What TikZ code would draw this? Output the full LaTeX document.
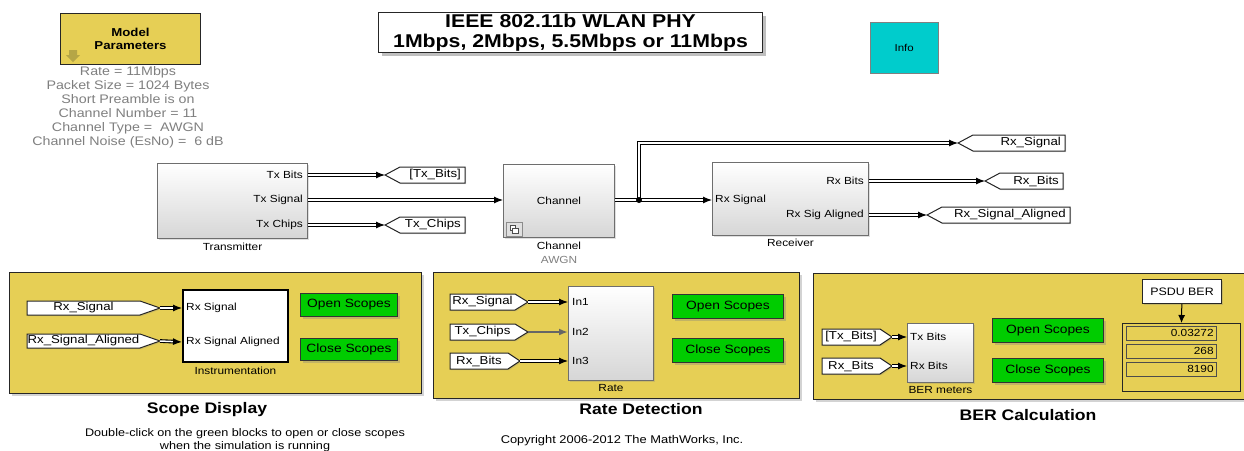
\documentclass[tikz,border=0pt]{standalone}
\usepackage{fontspec}
\setmainfont[FakeStretch=1.15]{Liberation Sans}
\usetikzlibrary{arrows.meta,shadows,positioning}
\definecolor{PanelYellow}{HTML}{E6CF55}
\definecolor{ScopeGreen}{HTML}{00CC00}
\definecolor{InfoCyan}{HTML}{00CCCC}
\definecolor{NoteGray}{HTML}{7F7F7F}
\definecolor{BlockEdge}{HTML}{6E6E6E}
\definecolor{BlockShade}{HTML}{D6D6D6}
\definecolor{IconOlive}{HTML}{B5A646}

\begin{document}
\begin{tikzpicture}[
  x=1pt, y=-1pt,
  line join=miter,
  panel/.style={draw=black!85, fill=PanelYellow, line width=1pt, anchor=north west, inner sep=0pt,
    drop shadow={opacity=0.35, shadow xshift=2.5pt, shadow yshift=-2.5pt}},
  block/.style={draw=BlockEdge, line width=1pt, top color=white, bottom color=BlockShade,
    anchor=north west, inner sep=0pt,
    drop shadow={opacity=0.25, shadow xshift=1.5pt, shadow yshift=-1.5pt}},
  button/.style={draw=black!80, fill=ScopeGreen, line width=1pt, anchor=north west, inner sep=0pt,
    font=\fontsize{12}{14}\selectfont,
    drop shadow={opacity=0.35, shadow xshift=2pt, shadow yshift=-2pt}},
  port/.style={font=\fontsize{10.3}{12}\selectfont, inner sep=0pt},
  caption/.style={font=\fontsize{10.3}{12}\selectfont, inner sep=0pt},
  heading/.style={font=\fontsize{15.3}{18}\selectfont\bfseries, inner sep=0pt},
  tag/.style={draw=black!85, fill=white, line width=1pt,
    drop shadow={opacity=0.25, shadow xshift=1.2pt, shadow yshift=-1.2pt}},
  taglbl/.style={font=\fontsize{11.5}{14}\selectfont, inner sep=0pt},
  sig/.style={draw, double=white, double distance=1.5pt, line width=1.1pt,
    -{Latex[length=9pt,width=7pt]}}
]
\useasboundingbox (0,0) rectangle (1244,450);
\clip (0,0) rectangle (1244,450);

% === Top row: parameters, title, info ===
\node[draw=black!85, fill=PanelYellow, line width=1pt, anchor=north west, inner sep=0pt,
  minimum width=140, minimum height=51, align=center,
  font=\fontsize{11.5}{13}\selectfont\bfseries] (params) at (60,13) {Model\\Parameters};
\fill[IconOlive] (69,50) -- (77,50) -- (77,55) -- (80,55) -- (73,62) -- (66,55) -- (69,55) -- cycle;
\node[caption, text=NoteGray, align=center, anchor=north, font=\fontsize{12.4}{14}\selectfont]
  (paramtext) at (128,66) {Rate = 11Mbps\\Packet Size = 1024 Bytes\\Short Preamble is on\\
  Channel Number = 11\\Channel Type =\ \ AWGN\\Channel Noise (EsNo) =\ \ 6 dB};

\node[draw=black!85, fill=white, line width=1pt, anchor=north west, inner sep=0pt,
  minimum width=384, minimum height=40, align=center,
  font=\fontsize{18.5}{19.5}\selectfont\bfseries,
  drop shadow={opacity=0.5, shadow xshift=3pt, shadow yshift=-3pt}]
  (title) at (378,12) {IEEE 802.11b WLAN PHY\\1Mbps, 2Mbps, 5.5Mbps or 11Mbps};

\node[draw=black!50, fill=InfoCyan, anchor=north west, inner sep=0pt,
  minimum width=68, minimum height=51, font=\fontsize{10}{11}\selectfont] (info) at (870,22) {Info};

% === Transmitter -> Channel -> Receiver ===
\node[block, minimum width=150, minimum height=75] (tx) at (157,163) {};
\node[port, anchor=east] (txL1) at (303,175) {Tx Bits};
\node[port, anchor=east] (txL2) at (303,200) {Tx Signal};
\node[port, anchor=east] (txL3) at (303,225) {Tx Chips};
\node[caption, below=4pt of tx] (txcap) {Transmitter};

\node[block, minimum width=111, minimum height=73] (ch) at (503,164) {};
\node[port] (chL) at (ch.center) {Channel};
\draw[fill=black!12, draw=black!45, line width=0.6pt] (506,222) rectangle (522,236);
\draw[fill=white, draw=black!70, line width=0.5pt] (510,225) rectangle (515,230);
\draw[fill=white, draw=black!70, line width=0.5pt] (512,228) rectangle (518,233);
\node[caption, below=4pt of ch] (chcap) {Channel};
\node[caption, text=NoteGray, below=6pt of chcap] (chsub) {AWGN};

\node[block, minimum width=156, minimum height=73] (rx) at (712,162) {};
\node[port, anchor=west] (rxL1) at (715,200) {Rx Signal};
\node[port, anchor=east] (rxL2) at (864,181) {Rx Bits};
\node[port, anchor=east] (rxL3) at (864,215) {Rx Sig Aligned};
\node[caption, below=3pt of rx] (rxcap) {Receiver};

\coordinate (tx-o1) at (tx.east |- 0,175);
\coordinate (tx-o2) at (tx.east |- 0,200);
\coordinate (tx-o3) at (tx.east |- 0,225);
\coordinate (ch-in) at (ch.west |- 0,200);
\coordinate (ch-out) at (ch.east |- 0,200);
\coordinate (br) at (639,200);
\coordinate (rx-in) at (rx.west |- 0,200);
\coordinate (rx-o1) at (rx.east |- 0,181);
\coordinate (rx-o2) at (rx.east |- 0,215);

% Goto tags (point left)
\foreach \nm/\tx/\ty/\w/\lab in {
  gTxBits/385/175/65/{[Tx\_Bits]},
  gTxChips/385/225/65/{Tx\_Chips},
  gRxSig/958/143/92/{Rx\_Signal},
  gRxBits/985/181/63/{Rx\_Bits},
  gRxAl/927/215/128/{Rx\_Signal\_Aligned}%
}{
  \draw[tag] (\tx,\ty) -- (\tx+15,\ty-8) -- (\tx+15+\w,\ty-8) -- (\tx+15+\w,\ty+8)
    -- (\tx+15,\ty+8) -- cycle;
  \node[taglbl, anchor=east] (\nm) at (\tx+15+\w-4,\ty) {\lab};
  \coordinate (\nm-tip) at (\tx,\ty);
}

\draw[sig] (tx-o1) -- (gTxBits-tip);
\draw[sig] (tx-o2) -- (ch-in);
\draw[sig] (tx-o3) -- (gTxChips-tip);
\draw[sig, -] (ch-out) -- (br);
\draw[sig] (br) -- (rx-in);
\draw[sig] (br) |- (gRxSig-tip);
\fill (br) circle (3);
\draw[sig] (rx-o1) -- (gRxBits-tip);
\draw[sig] (rx-o2) -- (gRxAl-tip);

% === Bottom panels ===
\node[panel, minimum width=412, minimum height=121] (scopep) at (9,272) {};
\node[panel, minimum width=366, minimum height=126] (ratep) at (433,272) {};
\node[panel, minimum width=440, minimum height=126] (berp) at (813,273) {};

\node[heading] (scopeT) at (207,410) {Scope Display};
\node[heading] (rateT) at (641,409) {Rate Detection};
\node[heading] (berT) at (1028,415) {BER Calculation};
\node[caption, align=center, font=\fontsize{11}{13}\selectfont] (note) at (245,440)
  {Double-click on the green blocks to open or close scopes\\when the simulation is running};
\node[caption, font=\fontsize{11.2}{13}\selectfont] (copy) at (622,441) {Copyright 2006-2012 The MathWorks, Inc.};

% Scope display
\node[draw=black, line width=1.8pt, fill=white, anchor=north west, inner sep=0pt,
  minimum width=105, minimum height=72,
  drop shadow={opacity=0.3, shadow xshift=1.5pt, shadow yshift=-1.5pt}] (instr) at (182,289) {};
\node[port, anchor=west] (instrL1) at (186,308) {Rx Signal};
\node[port, anchor=west] (instrL2) at (186,342) {Rx Signal Aligned};
\node[caption, below=4pt of instr] (instrcap) {Instrumentation};
\node[button, minimum width=97, minimum height=23] (sOpen) at (300,293) {Open Scopes};
\node[button, minimum width=97, minimum height=22] (sClose) at (300,338) {Close Scopes};

% Rate detection
\node[block, minimum width=85, minimum height=94] (rate) at (568,286) {};
\node[port, anchor=west] (rateL1) at (572,302) {In1};
\node[port, anchor=west] (rateL2) at (572,332) {In2};
\node[port, anchor=west] (rateL3) at (572,361) {In3};
\node[caption, below=3pt of rate] (ratecap) {Rate};
\node[button, minimum width=111, minimum height=24] (rOpen) at (672,294) {Open Scopes};
\node[button, minimum width=111, minimum height=24] (rClose) at (672,338) {Close Scopes};

% BER calculation
\node[block, minimum width=66, minimum height=59] (berm) at (907,323) {};
\node[port, anchor=west] (bermL1) at (910,337) {Tx Bits};
\node[port, anchor=west] (bermL2) at (910,366) {Rx Bits};
\node[caption, below=3pt of berm] (bermcap) {BER meters};
\node[button, minimum width=111, minimum height=24] (bOpen) at (992,318) {Open Scopes};
\node[button, minimum width=111, minimum height=24] (bClose) at (992,358) {Close Scopes};

\node[draw=black!85, fill=white, line width=1pt, anchor=north west, inner sep=0pt,
  minimum width=79, minimum height=24, font=\fontsize{10.8}{12}\selectfont,
  drop shadow={opacity=0.3, shadow xshift=1.5pt, shadow yshift=-1.5pt}] (psdu) at (1142,279) {PSDU BER};
\node[draw=black!85, fill=PanelYellow, line width=1pt, anchor=north west, inner sep=0pt,
  minimum width=118, minimum height=68] (disp) at (1122,323) {};
\foreach \i/\v/\yy in {1/0.03272/326, 2/268/344, 3/8190/362}{
  \node[draw=black!70, fill=PanelYellow, line width=0.8pt, anchor=north west, inner sep=0pt,
    minimum width=90, minimum height=14] (fld\i) at (1126,\yy) {};
  \node[port, anchor=east] (val\i) at ([xshift=-3pt]fld\i.east) {\v};
}
\draw[-{Latex[length=8pt,width=7pt]}, line width=1pt] (psdu) -- (disp.north);

% From tags (point right)
\foreach \nm/\fx/\fy/\w/\len/\h/\lab in {
  sRxSig/27/308/113/20/7/{Rx\_Signal},
  sRxAl/27/341/113/20/7/{Rx\_Signal\_Aligned},
  rRxSig/450/302/65/13/8/{Rx\_Signal},
  rTxChips/450/332/65/13/8/{Tx\_Chips},
  rRxBits/450/361/58/12/8/{Rx\_Bits},
  bTxBits/822/337/58/12/8/{[Tx\_Bits]},
  bRxBits/822/366/58/12/8/{Rx\_Bits}%
}{
  \draw[tag] (\fx,\fy-\h) -- (\fx+\w,\fy-\h) -- (\fx+\w+\len,\fy) -- (\fx+\w,\fy+\h)
    -- (\fx,\fy+\h) -- cycle;
  \node[taglbl] (\nm) at (\fx+\w/2,\fy) {\lab};
  \coordinate (\nm-tip) at (\fx+\w+\len,\fy);
}

\draw[sig] (sRxSig-tip) -- (instr.west |- 0,308);
\draw[sig] (sRxAl-tip) -- (instr.west |- 0,342);
\draw[sig] (rRxSig-tip) -- (rate.west |- 0,302);
\draw[line width=2.6pt, draw=black!60, -{Latex[length=9pt,width=7pt]}] (rTxChips-tip) -- (rate.west |- 0,332);
\draw[sig] (rRxBits-tip) -- (rate.west |- 0,361);
\draw[sig] (bTxBits-tip) -- (berm.west |- 0,337);
\draw[sig] (bRxBits-tip) -- (berm.west |- 0,366);

\end{tikzpicture}
\end{document}
